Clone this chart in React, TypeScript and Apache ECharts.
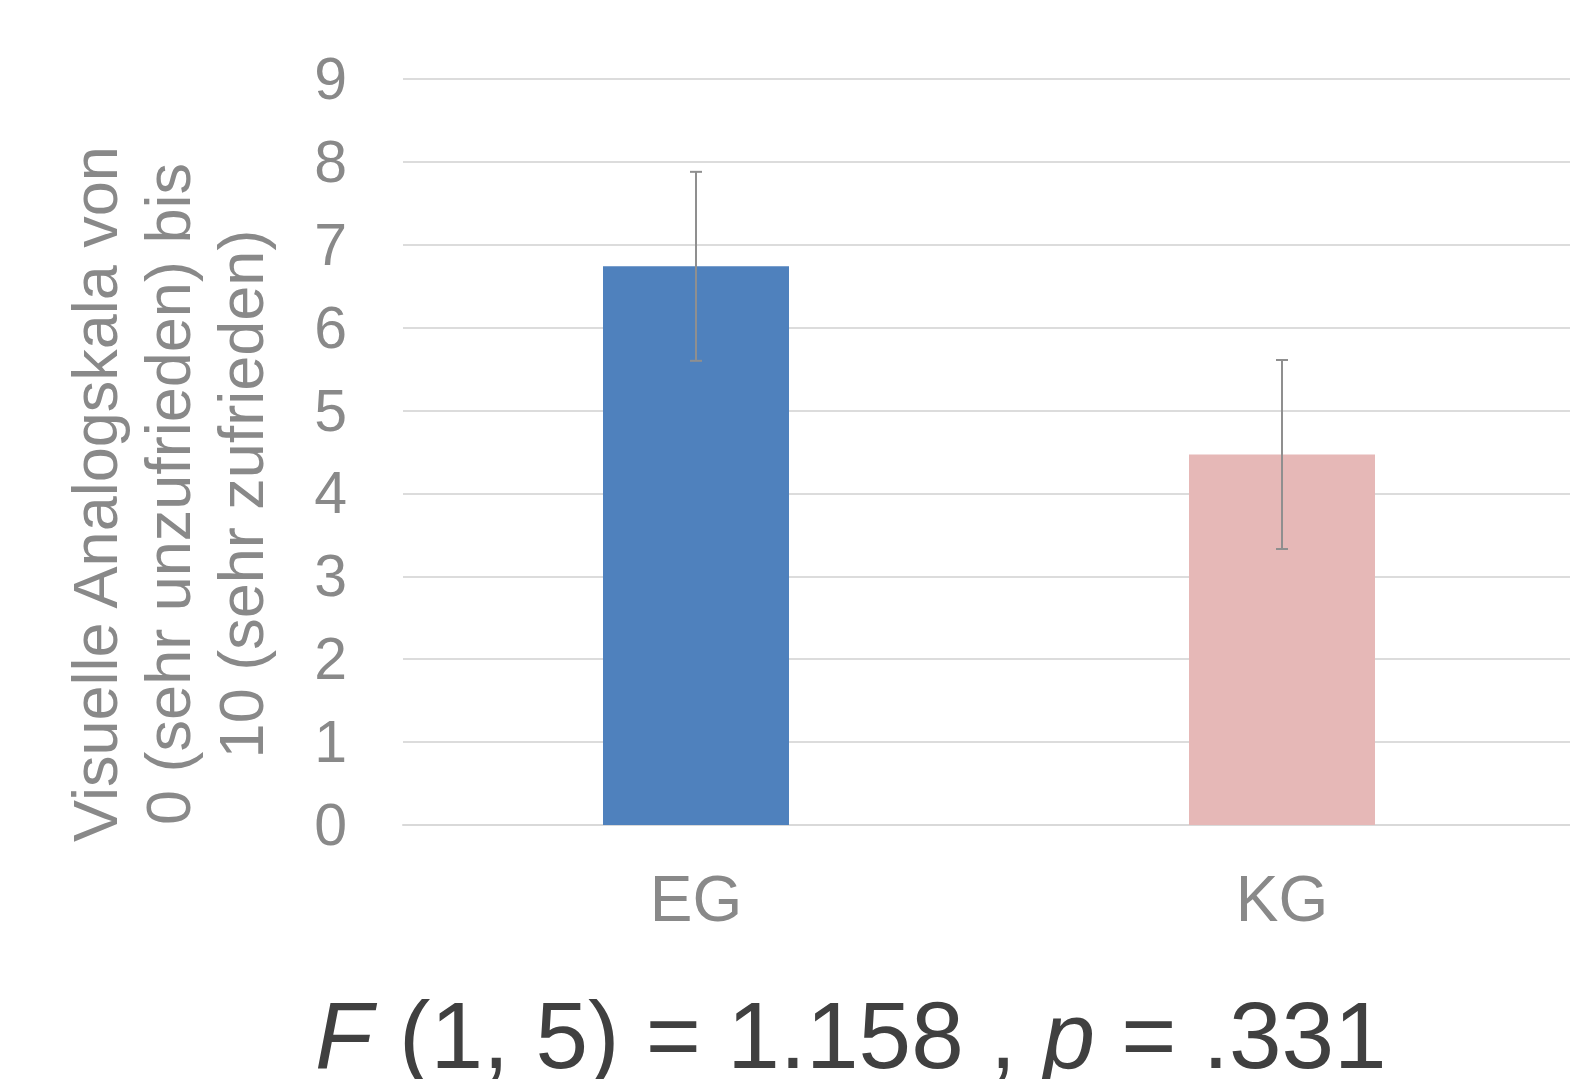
import React, { useEffect, useRef } from "react";
import * as echarts from "echarts";

const categories = ["EG", "KG"];
const means = [6.74, 4.47];
const errors = [1.14, 1.14];
const barColors = ["#4F81BD", "#E6B8B7"];
const yTicks = { min: 0, max: 9, interval: 1 };
const yTitle = "Visuelle Analogskala von\n0 (sehr unzufrieden) bis\n10 (sehr zufrieden)";

export default function App() {
  const ref = useRef<HTMLDivElement>(null);
  useEffect(() => {
    if (!ref.current) return;
    const chart = echarts.init(ref.current, null, { renderer: "svg" });
    const font = "'Liberation Sans', Arial, sans-serif";
    chart.setOption({
      animation: false,
      backgroundColor: "#ffffff",
      grid: { left: 403, top: 79, width: 1172, height: 746, containLabel: false },
      xAxis: {
        type: "category",
        data: categories,
        axisLine: { show: true, lineStyle: { color: "#d9d9d9", width: 2 } },
        axisTick: { show: false },
        axisLabel: { color: "#898989", fontSize: 64, fontFamily: font, margin: 42 },
      },
      yAxis: {
        type: "value",
        min: yTicks.min,
        max: yTicks.max,
        interval: yTicks.interval,
        axisLine: { show: false },
        axisTick: { show: false },
        splitLine: { lineStyle: { color: "#dcdcdc", width: 2 } },
        axisLabel: { color: "#898989", fontSize: 59, fontFamily: font, margin: 56 },
      },
      series: [
        {
          type: "bar",
          data: means.map((v, i) => ({ value: v, itemStyle: { color: barColors[i] } })),
          barWidth: 186,
        },
        {
          type: "custom",
          data: means.map((v, i) => [i, v - errors[i], v + errors[i]]),
          z: 10,
          renderItem: (params: any, api: any) => {
            const x = api.value(0);
            const lo = api.coord([x, api.value(1)]);
            const hi = api.coord([x, api.value(2)]);
            const cap = 6;
            const style = { stroke: "#8f8f8f", lineWidth: 2 };
            return {
              type: "group",
              children: [
                { type: "line", shape: { x1: lo[0], y1: lo[1], x2: hi[0], y2: hi[1] }, style },
                { type: "line", shape: { x1: hi[0] - cap, y1: hi[1], x2: hi[0] + cap, y2: hi[1] }, style },
                { type: "line", shape: { x1: lo[0] - cap, y1: lo[1], x2: lo[0] + cap, y2: lo[1] }, style },
              ],
            };
          },
        },
      ],
      graphic: [
        {
          type: "text",
          x: 168,
          y: 494,
          rotation: Math.PI / 2,
          style: {
            text: yTitle,
            fontSize: 63,
            fontFamily: font,
            fill: "#898989",
            lineHeight: 73,
            align: "center",
            verticalAlign: "middle",
          },
        },
        {
          type: "text",
          left: 315,
          top: 987,
          style: {
            text: "{i|F} (1, 5) = 1.158 , {i|p} = .331",
            fontSize: 94.5,
            fontFamily: font,
            fill: "#404040",
            rich: { i: { fontStyle: "italic", fontSize: 94.5, fontFamily: font, fill: "#404040" } },
          },
        },
      ],
    });
    return () => chart.dispose();
  }, []);
  return (
    <div style={{ position: "absolute", left: 0, top: 0, width: 1570, height: 1079, overflow: "hidden" }}>
      <div ref={ref} style={{ width: 1600, height: 1079 }} />
    </div>
  );
}
